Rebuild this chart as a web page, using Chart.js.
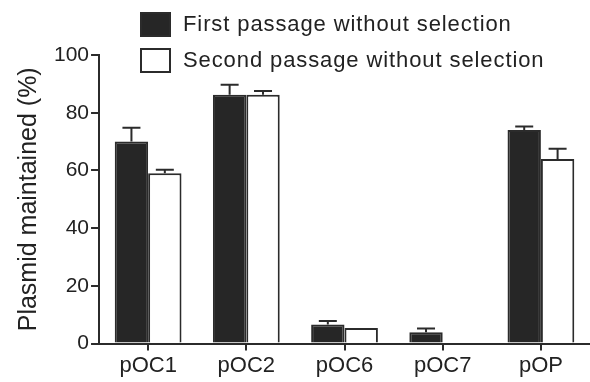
<!DOCTYPE html>
<html>
<head>
<meta charset="utf-8">
<script src="https://cdn.jsdelivr.net/npm/chart.js@4/dist/chart.umd.min.js"></script>
<style>
  html, body { margin: 0; padding: 0; background: #fff; }
  #wrap { position: relative; width: 590px; height: 382px; }
  #legend { position: absolute; left: 140px; top: 11px; font-family: "Liberation Sans", Arial, sans-serif; font-size: 22px; color: #222; letter-spacing: 0.9px; }
  .item { display: flex; align-items: center; height: 26px; margin-bottom: 10px; }
  .box { width: 27px; height: 21px; border: 2px solid #2b2b2b; margin-right: 12px; }
</style>
</head>
<body>
<div id="wrap">
  <canvas id="chart" width="590" height="382"></canvas>
  <div id="legend"></div>
</div>
<script>
const categories = ['pOC1', 'pOC2', 'pOC6', 'pOC7', 'pOP'];
const firstPassage = [70, 86.2, 6.6, 3.9, 74];
const firstPassageErr = [4.8, 3.5, 1.2, 1.3, 1.2];
const secondPassage = [59, 86.2, 5.4, 0, 64];
const secondPassageErr = [1.2, 1.3, 0, 0, 3.5];
const yTicks = [0, 20, 40, 60, 80, 100];

const FONT = '"Liberation Sans", Arial, sans-serif';
const INK = '#2b2b2b';

// upper error bars only, caps drawn from the bar centre
const errorBars = {
  id: 'errorBars',
  afterDatasetsDraw(chart) {
    const { ctx } = chart;
    const y = chart.scales.y;
    chart.data.datasets.forEach((ds, i) => {
      const meta = chart.getDatasetMeta(i);
      meta.data.forEach((bar, j) => {
        const err = ds.errors[j];
        if (!err) return;
        const top = y.getPixelForValue(ds.data[j] + err);
        ctx.save();
        ctx.strokeStyle = INK;
        ctx.lineWidth = 2;
        ctx.beginPath();
        ctx.moveTo(bar.x, bar.y);
        ctx.lineTo(bar.x, top);
        ctx.moveTo(bar.x - 9, top);
        ctx.lineTo(bar.x + 9, top);
        ctx.stroke();
        ctx.restore();
      });
    });
  }
};

const chart = new Chart(document.getElementById('chart'), {
  type: 'bar',
  data: {
    labels: categories,
    datasets: [
      {
        label: 'First passage without selection',
        data: firstPassage,
        errors: firstPassageErr,
        backgroundColor: '#262626',
        borderColor: INK,
        borderWidth: 2
      },
      {
        label: 'Second passage without selection',
        data: secondPassage,
        errors: secondPassageErr,
        backgroundColor: '#ffffff',
        borderColor: INK,
        borderWidth: 2
      }
    ]
  },
  options: {
    responsive: false,
    animation: false,
    layout: { padding: { top: 55, right: 0, left: 14, bottom: 0 } },
    datasets: { bar: { categoryPercentage: 0.68, barPercentage: 1 } },
    plugins: { legend: { display: false }, tooltip: { enabled: false } },
    scales: {
      x: {
        border: { display: true, color: INK, width: 2 },
        grid: { display: true, drawOnChartArea: false, offset: false, tickLength: 7, color: INK, lineWidth: 2 },
        ticks: { font: { family: FONT, size: 22 }, color: '#222', padding: 2.5 }
      },
      y: {
        min: 0,
        max: 100,
        afterBuildTicks: (axis) => { axis.ticks = yTicks.map(v => ({ value: v })); },
        border: { display: true, color: INK, width: 2 },
        grid: { display: true, drawOnChartArea: false, tickLength: 8, color: INK, lineWidth: 2 },
        ticks: { font: { family: FONT, size: 21 }, color: '#222', padding: 2 },
        title: { display: true, text: 'Plasmid maintained (%)', font: { family: FONT, size: 25 }, color: '#222', padding: { top: 0, bottom: 8 } }
      }
    }
  },
  plugins: [errorBars]
});

const legend = document.getElementById('legend');
chart.data.datasets.forEach(ds => {
  const item = document.createElement('div');
  item.className = 'item';
  const box = document.createElement('div');
  box.className = 'box';
  box.style.background = ds.backgroundColor;
  const text = document.createElement('span');
  text.textContent = ds.label;
  item.appendChild(box);
  item.appendChild(text);
  legend.appendChild(item);
});
</script>
</body>
</html>
